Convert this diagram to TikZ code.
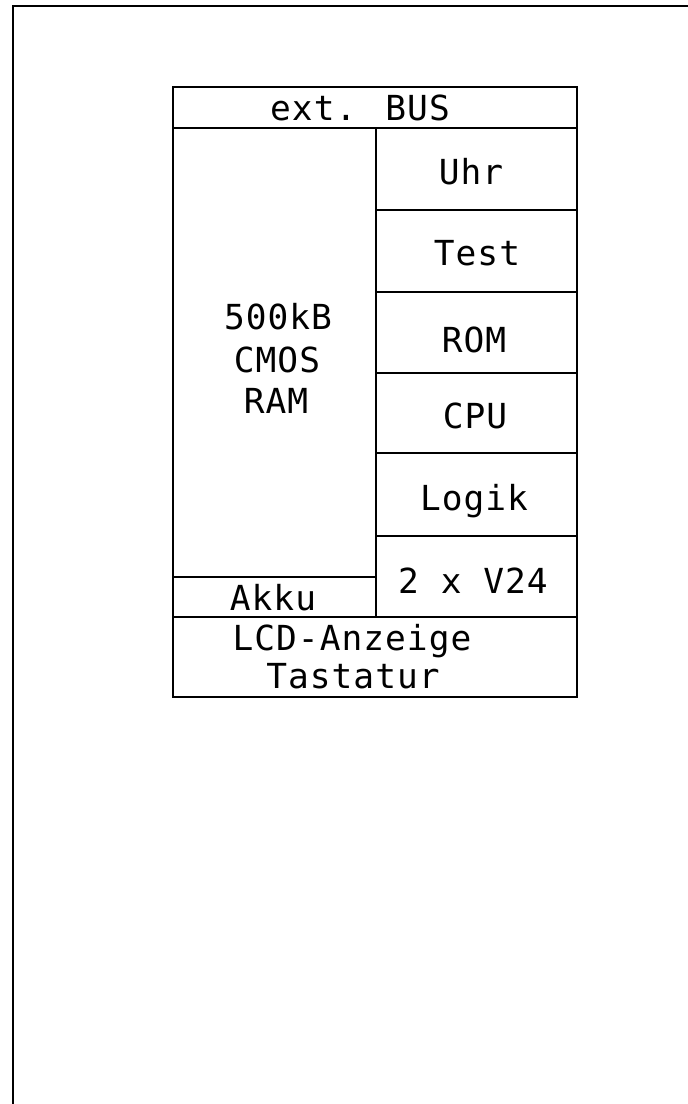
\documentclass[tikz,border=0pt]{standalone}
\usepackage{fontspec}
\newfontfamily\plotfont[LetterSpace=3]{DejaVu Sans Mono}
\begin{document}
\begin{tikzpicture}[x=1pt,y=-1pt,
  frameline/.style={line width=1.8pt},
  boxline/.style={line width=1.6pt},
  lbl/.style={font=\plotfont\fontsize{34.5}{34.5}\selectfont, anchor=base, inner sep=0pt}]
\useasboundingbox (0,0) rectangle (688,1104);
% page frame
\draw[frameline] (688,6) -- (13,6) -- (13,1104);
% block outline
\draw[boxline] (173,87) rectangle (577,697);
\draw[boxline] (173,128) -- (577,128);
\draw[boxline] (376,128) -- (376,617);
\draw[boxline] (173,617) -- (577,617);
\foreach \yy in {210,292,373,453,536} \draw[boxline] (376,\yy) -- (577,\yy);
\draw[boxline] (173,577) -- (376,577);
% labels
\node[lbl] (bus) at (360,120) {ext. BUS};
\node[lbl] (uhr) at (471,184) {Uhr};
\node[lbl] (test) at (477,265) {Test};
\node[lbl] (rom) at (474,352) {ROM};
\node[lbl] (cpu) at (475,428) {CPU};
\node[lbl] (logik) at (474,510) {Logik};
\node[lbl] (v24) at (473,593) {2 x V24};
\node[lbl] (akku) at (273,610) {Akku};
\node[lbl] (lcd) at (352,650) {LCD-Anzeige};
\node[lbl] (tast) at (353,688) {Tastatur};
\node[lbl] (ram1) at (278,329) {500kB};
\node[lbl] (ram2) at (277,372) {CMOS};
\node[lbl] (ram3) at (276,413) {RAM};
\end{tikzpicture}
\end{document}
